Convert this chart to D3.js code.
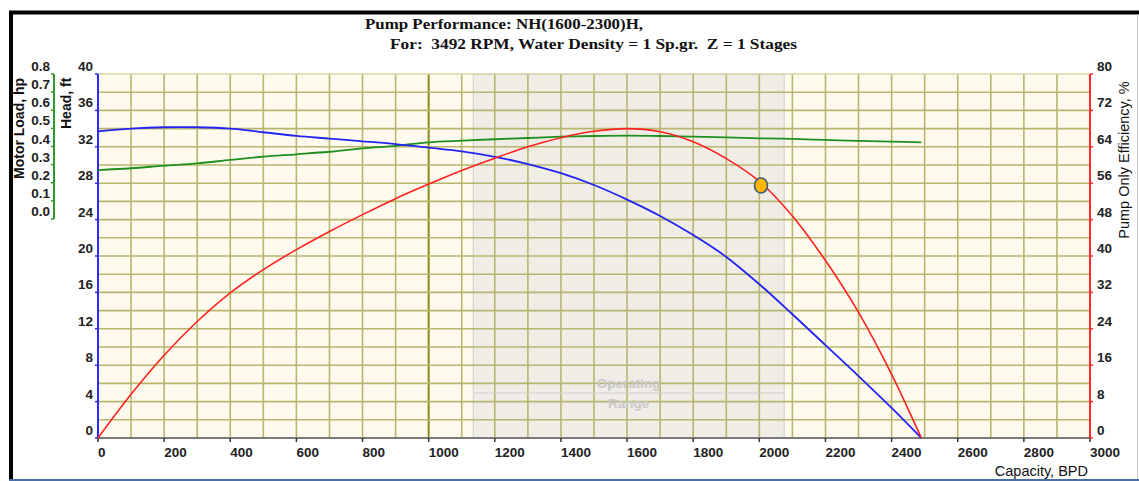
<!DOCTYPE html>
<html>
<head>
<meta charset="utf-8">
<script src="https://cdn.jsdelivr.net/npm/d3@7"></script>
<style>
  body { margin: 0; background: #fff; }
  svg { display: block; }
  .tick-label { font-family: "Liberation Sans", Arial, sans-serif; font-weight: bold; font-size: 13.5px; fill: #222; }
  .axis-title { font-family: "Liberation Sans", Arial, sans-serif; font-size: 14.5px; fill: #111; }
  .title { font-family: "Liberation Serif", "Times New Roman", serif; font-weight: bold; font-size: 15.5px; fill: #111; }
</style>
</head>
<body>
<svg id="chart" width="1139" height="481"></svg>
<script>
  // capacity, BPD
  const capacity = [0, 100, 200, 300, 400, 500, 600, 700, 800, 900, 1000, 1100, 1200, 1300, 1400, 1500, 1600, 1700, 1800, 1900, 2000, 2100, 2200, 2300, 2400, 2490];
  // head, ft
  const head = [33.7, 34.0, 34.15, 34.15, 34.0, 33.6, 33.2, 32.9, 32.6, 32.3, 31.9, 31.5, 30.9, 30.1, 29.1, 27.8, 26.2, 24.4, 22.3, 19.9, 16.9, 13.6, 10.2, 6.8, 3.3, 0];
  // pump only efficiency, %
  const efficiency = [0, 9.6, 18.2, 25.6, 31.9, 37.0, 41.4, 45.4, 49.1, 52.6, 55.8, 58.8, 61.5, 64.0, 66.0, 67.4, 68.0, 67.3, 65.1, 61.4, 56.4, 48.8, 39.0, 27.6, 14.0, 0];
  // motor load, hp
  const motorLoad = [0.27, 0.28, 0.294, 0.307, 0.326, 0.344, 0.357, 0.371, 0.39, 0.404, 0.423, 0.432, 0.44, 0.447, 0.454, 0.458, 0.46, 0.458, 0.454, 0.45, 0.445, 0.442, 0.436, 0.431, 0.427, 0.423];

  const operatingRange = [1135, 2075];
  const bepPoint = { q: 2005, eff: 55.5 };

  const headTicks = [0, 4, 8, 12, 16, 20, 24, 28, 32, 36, 40];
  const effTicks = [0, 8, 16, 24, 32, 40, 48, 56, 64, 72, 80];
  const loadTicks = [0.0, 0.1, 0.2, 0.3, 0.4, 0.5, 0.6, 0.7, 0.8];
  const capTicks = [0, 200, 400, 600, 800, 1000, 1200, 1400, 1600, 1800, 2000, 2200, 2400, 2600, 2800, 3000];

  const plot = { left: 98, right: 1090, top: 74, bottom: 438 };

  const svg = d3.select("#chart");

  const x = d3.scaleLinear().domain([0, 3000]).range([plot.left, plot.right]);
  const yHead = d3.scaleLinear().domain([0, 40]).range([plot.bottom, plot.top]);
  const yEff = d3.scaleLinear().domain([0, 80]).range([plot.bottom, plot.top]);
  const yLoad = d3.scaleLinear().domain([0, 0.8]).range([219, plot.top]);

  // outer frame
  svg.append("rect").attr("x", 0).attr("y", 0).attr("width", 1139).attr("height", 481).attr("fill", "#fff");
  svg.append("line").attr("x1", 9).attr("x2", 1139).attr("y1", 12.5).attr("y2", 12.5)
    .attr("stroke", "#000").attr("stroke-width", 4);
  svg.append("line").attr("x1", 11).attr("x2", 11).attr("y1", 11).attr("y2", 481)
    .attr("stroke", "#000").attr("stroke-width", 4);
  svg.append("line").attr("x1", 1137.5).attr("x2", 1137.5).attr("y1", 14).attr("y2", 481)
    .attr("stroke", "#c8c8c8").attr("stroke-width", 1);
  svg.append("line").attr("x1", 9).attr("x2", 1139).attr("y1", 480).attr("y2", 480)
    .attr("stroke", "#4a6fa5").attr("stroke-width", 2);

  // title
  svg.append("text").attr("class", "title").attr("x", 365).attr("y", 29)
    .attr("textLength", 278).attr("lengthAdjust", "spacingAndGlyphs")
    .text("Pump Performance: NH(1600-2300)H,");
  svg.append("text").attr("class", "title").attr("x", 390).attr("y", 49)
    .attr("xml:space", "preserve")
    .attr("textLength", 407).attr("lengthAdjust", "spacingAndGlyphs")
    .text("For:  3492 RPM, Water Density = 1 Sp.gr.  Z = 1 Stages");

  // plot background
  svg.append("rect").attr("x", plot.left).attr("y", plot.top)
    .attr("width", plot.right - plot.left).attr("height", plot.bottom - plot.top)
    .attr("fill", "#fffaee");

  // operating range shading
  svg.append("rect")
    .attr("x", x(operatingRange[0])).attr("y", plot.top)
    .attr("width", x(operatingRange[1]) - x(operatingRange[0])).attr("height", plot.bottom - plot.top)
    .attr("fill", "#efede6").attr("stroke", "#d4d4d4").attr("stroke-width", 1.2);

  // grid
  const grid = svg.append("g");
  grid.selectAll(".vg").data(d3.range(100, 3000, 100)).enter().append("line")
    .attr("x1", d => x(d)).attr("x2", d => x(d)).attr("y1", plot.top).attr("y2", plot.bottom)
    .attr("stroke", d => d === 1000 ? "#8c8c14" : "#b8b66e")
    .attr("stroke-width", d => d === 1000 ? 2 : 1.6);
  grid.selectAll(".hg").data(d3.range(2, 40, 2)).enter().append("line")
    .attr("x1", plot.left).attr("x2", plot.right).attr("y1", d => yHead(d)).attr("y2", d => yHead(d))
    .attr("stroke", "#b8b66e").attr("stroke-width", 1.6);
  grid.append("line").attr("x1", plot.left).attr("x2", plot.right).attr("y1", plot.top).attr("y2", plot.top)
    .attr("stroke", "#d8d6a8").attr("stroke-width", 1.5);

  // operating range label
  const opX = (x(operatingRange[0]) + x(operatingRange[1])) / 2;
  svg.append("line").attr("x1", x(operatingRange[0])).attr("x2", x(operatingRange[1]))
    .attr("y1", 393).attr("y2", 393).attr("stroke", "#d0d0d0").attr("stroke-width", 1);
  svg.append("text").attr("class", "tick-label").attr("x", opX).attr("y", 388)
    .attr("text-anchor", "middle").style("fill", "#c8c8c8").text("Operating");
  svg.append("text").attr("class", "tick-label").attr("x", opX).attr("y", 408)
    .attr("text-anchor", "middle").style("fill", "#c8c8c8").text("Range");

  // x axis
  svg.append("line").attr("x1", plot.left).attr("x2", plot.right).attr("y1", plot.bottom).attr("y2", plot.bottom)
    .attr("stroke", "#7a7a7a").attr("stroke-width", 2);
  svg.selectAll(".xt").data(capTicks).enter().append("line")
    .attr("x1", d => x(d)).attr("x2", d => x(d)).attr("y1", plot.bottom).attr("y2", plot.bottom + 4)
    .attr("stroke", "#333").attr("stroke-width", 1.5);
  svg.selectAll(".xl").data(capTicks).enter().append("text").attr("class", "tick-label")
    .attr("x", d => x(d)).attr("y", 457).text(d => d);
  svg.append("text").attr("class", "axis-title").attr("x", 1088).attr("y", 476)
    .attr("text-anchor", "end").text("Capacity, BPD");

  // head axis (left, blue)
  svg.append("line").attr("x1", plot.left).attr("x2", plot.left).attr("y1", plot.top).attr("y2", plot.bottom)
    .attr("stroke", "#2a2aff").attr("stroke-width", 2);
  svg.selectAll(".ht").data(headTicks).enter().append("line")
    .attr("x1", plot.left - 3).attr("x2", plot.left).attr("y1", d => yHead(d)).attr("y2", d => yHead(d))
    .attr("stroke", "#2a2aff").attr("stroke-width", 1.5);
  svg.selectAll(".hl").data(headTicks).enter().append("text").attr("class", "tick-label")
    .attr("x", 93).attr("y", d => yHead(d) - 3).attr("text-anchor", "end").text(d => d);
  svg.append("text").attr("class", "axis-title").style("font-weight", "bold").style("font-size", "14px")
    .attr("transform", "translate(71,129) rotate(-90)").text("Head, ft");

  // motor load axis (green)
  svg.append("line").attr("x1", 54).attr("x2", 54).attr("y1", yLoad(0.8)).attr("y2", yLoad(0))
    .attr("stroke", "#2e9a2e").attr("stroke-width", 2);
  svg.selectAll(".lt").data(loadTicks).enter().append("line")
    .attr("x1", 51).attr("x2", 54).attr("y1", d => yLoad(d)).attr("y2", d => yLoad(d))
    .attr("stroke", "#2e9a2e").attr("stroke-width", 1.5);
  svg.selectAll(".ll").data(loadTicks).enter().append("text").attr("class", "tick-label")
    .attr("x", 50).attr("y", d => yLoad(d) - 3).attr("text-anchor", "end").text(d => d.toFixed(1));
  svg.append("text").attr("class", "axis-title").style("font-weight", "bold").style("font-size", "14px")
    .attr("transform", "translate(24,179) rotate(-90)").text("Motor Load, hp");

  // efficiency axis (right, red)
  svg.append("line").attr("x1", plot.right).attr("x2", plot.right).attr("y1", plot.top).attr("y2", plot.bottom)
    .attr("stroke", "#ff2a2a").attr("stroke-width", 2);
  svg.selectAll(".et").data(effTicks).enter().append("line")
    .attr("x1", plot.right).attr("x2", plot.right + 3).attr("y1", d => yEff(d)).attr("y2", d => yEff(d))
    .attr("stroke", "#ff2a2a").attr("stroke-width", 1.5);
  svg.selectAll(".el").data(effTicks).enter().append("text").attr("class", "tick-label")
    .attr("x", 1097).attr("y", d => yEff(d) - 3).text(d => d);
  svg.append("text").attr("class", "axis-title")
    .attr("transform", "translate(1129,160) rotate(-90)").attr("text-anchor", "middle")
    .text("Pump Only Efficiency, %");

  // curves
  const lineOf = (ys, yScale) => d3.line()
    .x((d, i) => x(capacity[i]))
    .y((d, i) => yScale(ys[i]))
    .curve(d3.curveCatmullRom.alpha(0.5))(capacity);

  svg.append("path").attr("d", lineOf(motorLoad, yLoad))
    .attr("fill", "none").attr("stroke", "#1f8f1f").attr("stroke-width", 1.8);
  svg.append("path").attr("d", lineOf(head, yHead))
    .attr("fill", "none").attr("stroke", "#2323f2").attr("stroke-width", 1.8);
  svg.append("path").attr("d", lineOf(efficiency, yEff))
    .attr("fill", "none").attr("stroke", "#ff2020").attr("stroke-width", 1.6);

  // operating point
  svg.append("ellipse")
    .attr("cx", x(bepPoint.q)).attr("cy", yEff(bepPoint.eff))
    .attr("rx", 6.5).attr("ry", 7.5)
    .attr("fill", "#ffb400").attr("stroke", "#3c5a7a").attr("stroke-width", 1.6);
</script>
</body>
</html>
